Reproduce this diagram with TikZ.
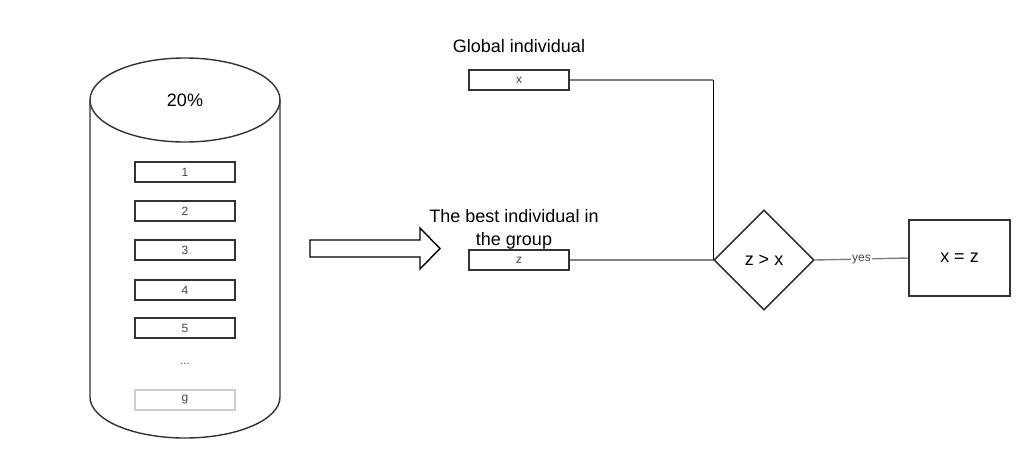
\documentclass[tikz,border=0pt]{standalone}
\usepackage{fontspec}
\setmainfont{Liberation Sans}
\usetikzlibrary{shapes.geometric}
\definecolor{edgegray}{HTML}{808080}
\definecolor{boxline}{HTML}{333333}
\definecolor{lbl}{HTML}{444444}
\begin{document}
\begin{tikzpicture}[x=1pt,y=-1pt,
  itembox/.style={draw=boxline,line width=1.6pt,minimum width=100pt,minimum height=20pt,inner sep=0pt,font=\fontsize{12}{14}\selectfont,text=lbl},
  bigtext/.style={font=\fontsize{18}{21}\selectfont,text=black,inner sep=0pt},
  conn/.style={draw=edgegray,line width=1.4pt}]
\useasboundingbox (0,0) rectangle (1030,460);
% cylinder
\draw[line width=1.4pt,draw=boxline,fill=white]
  (90,100) -- (90,397) arc[start angle=180,end angle=0,x radius=95,y radius=41]
  -- (280,100);
\draw[line width=1.4pt,draw=boxline] (185,100) ellipse[x radius=95,y radius=42];
\node[bigtext] (pct) at (185,100) {20\%};
\node[itembox] (b1) at (185,172) {1};
\node[itembox] (b2) at (185,211) {2};
\node[itembox] (b3) at (185,250) {3};
\node[itembox] (b4) at (185,290) {4};
\node[itembox] (b5) at (185,328) {5};
\node[font=\fontsize{11}{12}\selectfont,text=lbl,inner sep=0pt] (dots) at (185,364) {...};
\node[itembox,draw=black!20] (bg) at (185,400) {g};
% block arrow
\draw[line width=1.4pt,fill=white] (310,240) -- (420,240) -- (420,228) -- (440,248.5) -- (420,269) -- (420,257) -- (310,257) -- cycle;
% right part
\node[bigtext] (glab) at (519,46) {Global individual};
\node[itembox] (xb) at (519,80) {x};
\node[bigtext,align=center,font=\fontsize{18}{23}\selectfont] (zlab) at (514,229) {The best individual in\\the group};
\node[itembox] (zb) at (519,260) {z};
\node[draw=boxline,line width=1.6pt,diamond,minimum width=100pt,minimum height=100pt,inner sep=0pt,bigtext] (dm) at (764,260) {z > x};
\node[draw=boxline,line width=1.6pt,minimum width=101pt,minimum height=76pt,inner sep=0pt,bigtext] (res) at (959.5,258) {x = z};
\coordinate (corner) at (dm.west |- xb.east);
\draw[conn] (xb.east) -- (corner);
\draw[line width=1pt,black] (corner) -- (dm.west);
\draw[conn] (zb.east) -- (dm.west);
\draw[conn] (dm.east) -- node[fill=white,inner sep=1pt,font=\fontsize{12}{13}\selectfont,text=lbl,yshift=-1pt] (yes) {yes} (res.west);
\end{tikzpicture}
\end{document}
